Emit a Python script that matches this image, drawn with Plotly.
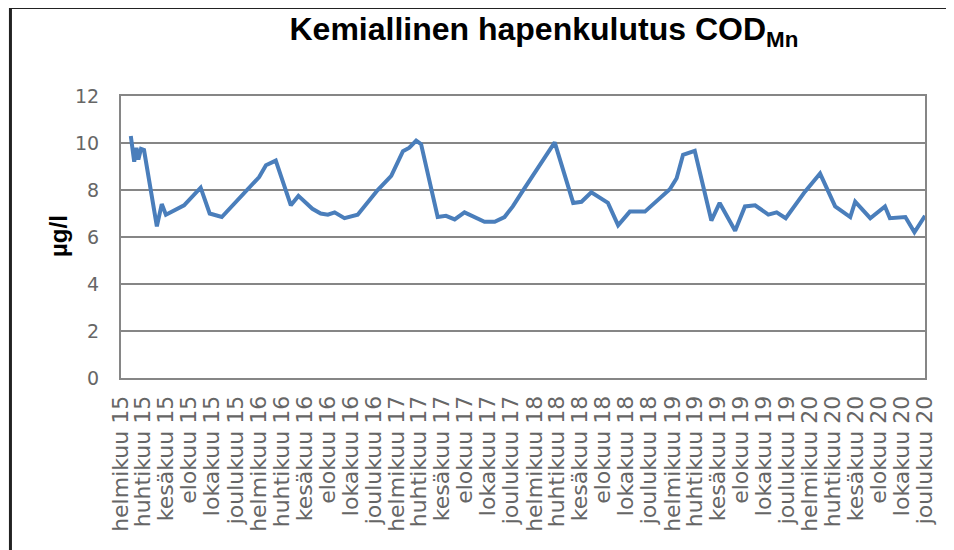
import plotly.graph_objects as go

# näytepäivät ja COD_Mn-arvot (luettu kuvasta)
dates = [
    "2015-02-27", "2015-03-08", "2015-03-14", "2015-03-19", "2015-03-26", "2015-04-03",
    "2015-05-07", "2015-05-20", "2015-05-31", "2015-07-18", "2015-08-31", "2015-09-24",
    "2015-10-26", "2016-01-02", "2016-02-02", "2016-02-20", "2016-03-17", "2016-04-26",
    "2016-05-16", "2016-06-22", "2016-07-14", "2016-08-02", "2016-08-20", "2016-09-15",
    "2016-10-20", "2016-12-12", "2017-01-17", "2017-02-17", "2017-03-06", "2017-03-24",
    "2017-04-06", "2017-05-20", "2017-06-11", "2017-07-04", "2017-07-30", "2017-09-21",
    "2017-10-18", "2017-11-13", "2017-12-05", "2017-12-31", "2018-03-26", "2018-05-14",
    "2018-06-05", "2018-07-01", "2018-08-14", "2018-09-10", "2018-10-11", "2018-11-20",
    "2019-01-25", "2019-02-12", "2019-03-01", "2019-04-01", "2019-05-15", "2019-06-06",
    "2019-07-17", "2019-08-12", "2019-09-08", "2019-10-13", "2019-11-04", "2019-11-28",
    "2020-01-18", "2020-02-27", "2020-04-07", "2020-05-17", "2020-05-30", "2020-07-09",
    "2020-08-17", "2020-08-30", "2020-10-10", "2020-11-03", "2020-12-01",
]
cod = [
    10.3, 9.2, 9.8, 9.3, 9.75, 9.7,
    6.45, 7.4, 6.95, 7.35, 8.1, 7.0,
    6.85, 8.0, 8.55, 9.05, 9.25, 7.35,
    7.75, 7.2, 7.0, 6.95, 7.05, 6.8,
    6.95, 8.0, 8.6, 9.65, 9.8, 10.1,
    9.95, 6.85, 6.9, 6.75, 7.05, 6.65,
    6.65, 6.85, 7.3, 7.95, 10.03, 7.45,
    7.5, 7.9, 7.45, 6.5, 7.08, 7.08,
    8.03, 8.5, 9.5, 9.67, 6.7, 7.45,
    6.27, 7.3, 7.35, 6.95, 7.05, 6.8,
    7.93, 8.7, 7.3, 6.85, 7.5, 6.8,
    7.3, 6.8, 6.85, 6.2, 6.9,
]

month_names = ["helmikuu", "huhtikuu", "kesäkuu", "elokuu", "lokakuu", "joulukuu"]
month_nums = [2, 4, 6, 8, 10, 12]
years = [2015, 2016, 2017, 2018, 2019, 2020]

tick_vals = []
tick_text = []
for y in years:
    for name, m in zip(month_names, month_nums):
        tick_vals.append(f"{y}-{m:02d}-01")
        tick_text.append(f"{name} {str(y)[2:]}")

grid = "#868686"

fig = go.Figure()
fig.add_trace(go.Scatter(
    x=dates, y=cod, mode="lines",
    line=dict(color="#4A7EBB", width=4),
    showlegend=False
))

# sivun body-marginaali (8 px) huomioitu koossa
fig.update_layout(
    width=946, height=542,
    margin=dict(l=113, r=29, t=88, b=172),
    paper_bgcolor="white", plot_bgcolor="white",
    title=dict(
        text="<b>Kemiallinen hapenkulutus COD<sub>Mn</sub></b>",
        font=dict(family="Liberation Sans", size=32, color="black"),
        x=0.526, xref="paper", xanchor="center",
        y=0.961, yref="container", yanchor="middle"
    ),
    annotations=[dict(
        text="<b>µg/l</b>", textangle=-90, showarrow=False,
        xref="paper", yref="paper", x=-0.077, y=0.504,
        xanchor="center", yanchor="middle",
        font=dict(family="Liberation Sans", size=24, color="black")
    )],
    shapes=[dict(
        type="rect", xref="paper", yref="paper",
        x0=-0.1375, x1=1.0323, y0=-0.646, y1=1.314,
        line=dict(color="#222222", width=3)
    )]
)

fig.update_xaxes(
    type="date", range=["2015-02-01", "2020-12-01"],
    tickmode="array", tickvals=tick_vals, ticktext=tick_text,
    tickangle=-90, ticklabelstandoff=7,
    tickfont=dict(family="DejaVu Sans", size=22, color="#666666"),
    showgrid=False, showline=True, mirror=True,
    linecolor=grid, linewidth=2
)
fig.update_yaxes(
    range=[0, 12], dtick=2, tick0=0,
    tickfont=dict(family="DejaVu Sans", size=19, color="#666666"),
    ticklabelstandoff=16,
    showgrid=True, gridcolor=grid, gridwidth=2,
    zeroline=False, showline=True, mirror=True,
    linecolor=grid, linewidth=2
)

fig.write_html("out.html")
